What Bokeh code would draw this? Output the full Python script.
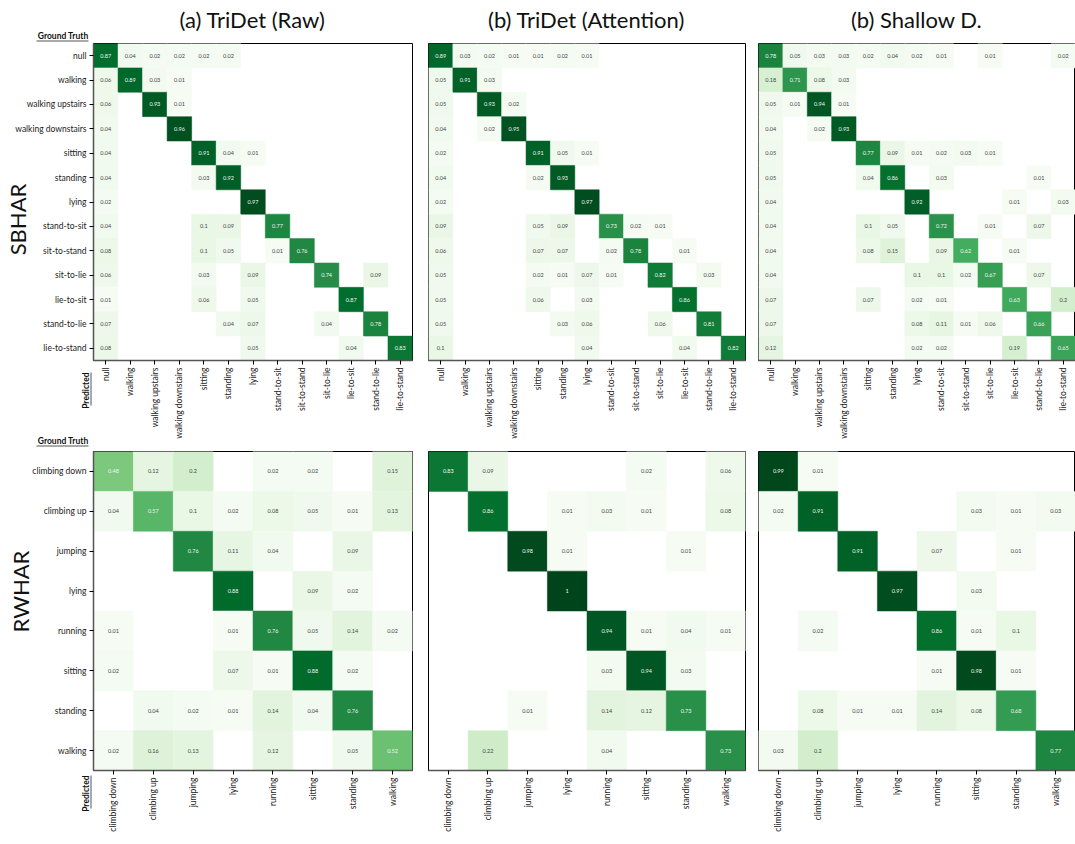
import math
from bokeh.plotting import figure
from bokeh.models import (FactorRange, ColumnDataSource, Label, LinearColorMapper,
                          GridBox, Range1d)
from bokeh.palettes import Greens256
from bokeh.embed import file_html
from bokeh.resources import INLINE
from bokeh.core.properties import value

FONT = "Lato"

# ---------------- data ----------------
titles = ["(a) TriDet (Raw)", "(b) TriDet (Attention)", "(b) Shallow D."]
row_names = ["SBHAR", "RWHAR"]
axis_names = ["Ground Truth", "Predicted"]

sbhar_labels = ["null", "walking", "walking upstairs", "walking downstairs", "sitting",
                "standing", "lying", "stand-to-sit", "sit-to-stand", "sit-to-lie",
                "lie-to-sit", "stand-to-lie", "lie-to-stand"]
rwhar_labels = ["climbing down", "climbing up", "jumping", "lying", "running",
                "sitting", "standing", "walking"]

# rows = ground truth, columns = predicted; 0 = empty cell
sbhar_raw = [
    [0.87, 0.04, 0.02, 0.02, 0.02, 0.02, 0, 0, 0, 0, 0, 0, 0],
    [0.06, 0.89, 0.03, 0.01, 0, 0, 0, 0, 0, 0, 0, 0, 0],
    [0.06, 0, 0.93, 0.01, 0, 0, 0, 0, 0, 0, 0, 0, 0],
    [0.04, 0, 0, 0.96, 0, 0, 0, 0, 0, 0, 0, 0, 0],
    [0.04, 0, 0, 0, 0.91, 0.04, 0.01, 0, 0, 0, 0, 0, 0],
    [0.04, 0, 0, 0, 0.03, 0.92, 0, 0, 0, 0, 0, 0, 0],
    [0.02, 0, 0, 0, 0, 0, 0.97, 0, 0, 0, 0, 0, 0],
    [0.04, 0, 0, 0, 0.1, 0.09, 0, 0.77, 0, 0, 0, 0, 0],
    [0.08, 0, 0, 0, 0.1, 0.05, 0, 0.01, 0.76, 0, 0, 0, 0],
    [0.06, 0, 0, 0, 0.03, 0, 0.09, 0, 0, 0.74, 0, 0.09, 0],
    [0.01, 0, 0, 0, 0.06, 0, 0.05, 0, 0, 0, 0.87, 0, 0],
    [0.07, 0, 0, 0, 0, 0.04, 0.07, 0, 0, 0.04, 0, 0.78, 0],
    [0.08, 0, 0, 0, 0, 0, 0.05, 0, 0, 0, 0.04, 0, 0.83],
]
sbhar_att = [
    [0.89, 0.03, 0.02, 0.01, 0.01, 0.02, 0.01, 0, 0, 0, 0, 0, 0],
    [0.05, 0.91, 0.03, 0, 0, 0, 0, 0, 0, 0, 0, 0, 0],
    [0.05, 0, 0.93, 0.02, 0, 0, 0, 0, 0, 0, 0, 0, 0],
    [0.04, 0, 0.02, 0.95, 0, 0, 0, 0, 0, 0, 0, 0, 0],
    [0.02, 0, 0, 0, 0.91, 0.05, 0.01, 0, 0, 0, 0, 0, 0],
    [0.04, 0, 0, 0, 0.02, 0.93, 0, 0, 0, 0, 0, 0, 0],
    [0.02, 0, 0, 0, 0, 0, 0.97, 0, 0, 0, 0, 0, 0],
    [0.09, 0, 0, 0, 0.05, 0.09, 0, 0.73, 0.02, 0.01, 0, 0, 0],
    [0.06, 0, 0, 0, 0.07, 0.07, 0, 0.02, 0.78, 0, 0.01, 0, 0],
    [0.05, 0, 0, 0, 0.02, 0.01, 0.07, 0.01, 0, 0.82, 0, 0.03, 0],
    [0.05, 0, 0, 0, 0.06, 0, 0.03, 0, 0, 0, 0.86, 0, 0],
    [0.05, 0, 0, 0, 0, 0.03, 0.06, 0, 0, 0.06, 0, 0.81, 0],
    [0.1, 0, 0, 0, 0, 0, 0.04, 0, 0, 0, 0.04, 0, 0.82],
]
sbhar_shallow = [
    [0.78, 0.05, 0.03, 0.03, 0.02, 0.04, 0.02, 0.01, 0, 0.01, 0, 0, 0.02],
    [0.18, 0.71, 0.08, 0.03, 0, 0, 0, 0, 0, 0, 0, 0, 0],
    [0.05, 0.01, 0.94, 0.01, 0, 0, 0, 0, 0, 0, 0, 0, 0],
    [0.04, 0, 0.02, 0.93, 0, 0, 0, 0, 0, 0, 0, 0, 0],
    [0.05, 0, 0, 0, 0.77, 0.09, 0.01, 0.02, 0.03, 0.01, 0, 0, 0],
    [0.05, 0, 0, 0, 0.04, 0.86, 0, 0.03, 0, 0, 0, 0.01, 0],
    [0.04, 0, 0, 0, 0, 0, 0.92, 0, 0, 0, 0.01, 0, 0.03],
    [0.04, 0, 0, 0, 0.1, 0.05, 0, 0.72, 0, 0.01, 0, 0.07, 0],
    [0.04, 0, 0, 0, 0.08, 0.15, 0, 0.09, 0.62, 0, 0.01, 0, 0],
    [0.04, 0, 0, 0, 0, 0, 0.1, 0.1, 0.02, 0.67, 0, 0.07, 0],
    [0.07, 0, 0, 0, 0.07, 0, 0.02, 0.01, 0, 0, 0.63, 0, 0.2],
    [0.07, 0, 0, 0, 0, 0, 0.08, 0.11, 0.01, 0.06, 0, 0.66, 0],
    [0.12, 0, 0, 0, 0, 0, 0.02, 0.02, 0, 0, 0.19, 0, 0.65],
]
rwhar_raw = [
    [0.48, 0.12, 0.2, 0, 0.02, 0.02, 0, 0.15],
    [0.04, 0.57, 0.1, 0.02, 0.08, 0.05, 0.01, 0.13],
    [0, 0, 0.76, 0.11, 0.04, 0, 0.09, 0],
    [0, 0, 0, 0.88, 0, 0.09, 0.02, 0],
    [0.01, 0, 0, 0.01, 0.76, 0.05, 0.14, 0.02],
    [0.02, 0, 0, 0.07, 0.01, 0.88, 0.02, 0],
    [0, 0.04, 0.02, 0.01, 0.14, 0.04, 0.76, 0],
    [0.02, 0.16, 0.13, 0, 0.12, 0, 0.05, 0.52],
]
rwhar_att = [
    [0.83, 0.09, 0, 0, 0, 0.02, 0, 0.06],
    [0, 0.86, 0, 0.01, 0.03, 0.01, 0, 0.08],
    [0, 0, 0.98, 0.01, 0, 0, 0.01, 0],
    [0, 0, 0, 1, 0, 0, 0, 0],
    [0, 0, 0, 0, 0.94, 0.01, 0.04, 0.01],
    [0, 0, 0, 0, 0.03, 0.94, 0.03, 0],
    [0, 0, 0.01, 0, 0.14, 0.12, 0.73, 0],
    [0, 0.22, 0, 0, 0.04, 0, 0, 0.73],
]
rwhar_shallow = [
    [0.99, 0.01, 0, 0, 0, 0, 0, 0],
    [0.02, 0.91, 0, 0, 0, 0.03, 0.01, 0.03],
    [0, 0, 0.91, 0, 0.07, 0, 0.01, 0],
    [0, 0, 0, 0.97, 0, 0.03, 0, 0],
    [0, 0.02, 0, 0, 0.86, 0.01, 0.1, 0],
    [0, 0, 0, 0, 0.01, 0.98, 0.01, 0],
    [0, 0.08, 0.01, 0.01, 0.14, 0.08, 0.68, 0],
    [0.03, 0.2, 0, 0, 0, 0, 0, 0.77],
]

# ---------------- styling ----------------
mapper = LinearColorMapper(palette=list(reversed(Greens256)), low=0, high=1)


def fmt(v):
    return f"{v:g}"


def make_panel(labels, matrix, width, height, bl, br, bt, bb, show_y):
    p = figure(width=width, height=height,
               x_range=FactorRange(*labels),
               y_range=FactorRange(*reversed(labels)),
               output_backend="svg", toolbar_location=None,
               min_border_left=bl, min_border_right=br,
               min_border_top=bt, min_border_bottom=bb)
    xs, ys, vs, ts, tc = [], [], [], [], []
    for i, gt in enumerate(labels):
        for j, pr in enumerate(labels):
            v = matrix[i][j]
            if v > 0:
                xs.append(pr)
                ys.append(gt)
                vs.append(v)
                ts.append(fmt(v))
                tc.append("#f4f4f4" if v >= 0.4 else "#444444")
    src = ColumnDataSource(dict(x=xs, y=ys, v=vs, t=ts, tc=tc))
    p.rect(x="x", y="y", width=1, height=1, source=src,
           fill_color={"field": "v", "transform": mapper},
           line_color={"field": "v", "transform": mapper}, line_width=0.5)
    p.text(x="x", y="y", text="t", source=src, text_align="center",
           text_baseline="middle", text_font=value(FONT),
           text_font_size="5.5px", text_color="tc")

    p.grid.grid_line_color = None
    p.outline_line_color = "black"
    p.outline_line_width = 1
    p.background_fill_color = "white"
    p.border_fill_color = "white"

    for ax in (p.xaxis, p.yaxis):
        ax.major_label_text_font = FONT
        ax.major_label_text_font_size = "8.5px"
        ax.major_label_text_color = "#222222"
        ax.major_tick_out = 4
        ax.major_tick_in = 0
        ax.major_tick_line_color = "black"
        ax.major_tick_line_width = 1
        ax.axis_line_color = "#555555"
        ax.axis_line_width = 1.5
        ax.major_label_standoff = 3
    p.xaxis.major_label_orientation = math.pi / 2
    if not show_y:
        p.yaxis.visible = False
    return p


# row 1 (SBHAR): frames at y 43..361
H1 = 441
f1 = make_panel(sbhar_labels, sbhar_raw, 420, H1, 93, 8, 43, 80, True)
f2 = make_panel(sbhar_labels, sbhar_att, 331, H1, 8, 6, 43, 80, False)
f3 = make_panel(sbhar_labels, sbhar_shallow, 324, H1, 7, 0, 43, 80, False)

# row 2 (RWHAR): frames at y 451..770
H2 = 399
f4 = make_panel(rwhar_labels, rwhar_raw, 420, H2, 93, 7, 10, 70, True)
f5 = make_panel(rwhar_labels, rwhar_att, 331, H2, 7, 5, 10, 70, False)
f6 = make_panel(rwhar_labels, rwhar_shallow, 324, H2, 7, 0, 10, 70, False)

# transparent overlay for the free texts (page pixel coordinates)
W, H = 1075, H1 + H2
ov = figure(width=W, height=H, x_range=Range1d(0, W), y_range=Range1d(H, 0),
            output_backend="svg", toolbar_location=None, min_border=0,
            background_fill_color=None, border_fill_color=None,
            outline_line_color=None)
ov.frame_align = False
ov.axis.visible = False
ov.grid.grid_line_color = None


def txt(x, y, text, size, bold=False, angle=0.0, align="center"):
    ov.add_layout(Label(x=x, y=y, text=text, angle=angle,
                        text_font=FONT, text_font_size=size,
                        text_font_style="bold" if bold else "normal",
                        text_color="#111111", text_align=align,
                        text_baseline="middle"))


for cx, t in zip([252, 586, 916], titles):
    txt(cx, 19, t, "22px")
txt(17, 219, row_names[0], "22px", angle=math.pi / 2)
txt(20, 591, row_names[1], "22px", angle=math.pi / 2)
txt(88, 35, axis_names[0], "8.5px", bold=True, align="right")
txt(88, 440, axis_names[0], "8.5px", bold=True, align="right")
txt(85, 372, axis_names[1], "8.5px", bold=True, angle=math.pi / 2, align="right")
txt(85, 775, axis_names[1], "8.5px", bold=True, angle=math.pi / 2, align="right")
ov.segment(x0=[36, 36, 90.5, 90.5], y0=[40.5, 445.5, 372, 775],
           x1=[88, 88, 90.5, 90.5], y1=[40.5, 445.5, 405, 808],
           line_color="#555555", line_width=1)

layout = GridBox(children=[(f1, 0, 0), (f2, 0, 1), (f3, 0, 2),
                           (f4, 1, 0), (f5, 1, 1), (f6, 1, 2),
                           (ov, 0, 0, 2, 3)])

with open("out.html", "w") as fh:
    fh.write(file_html(layout, INLINE))
